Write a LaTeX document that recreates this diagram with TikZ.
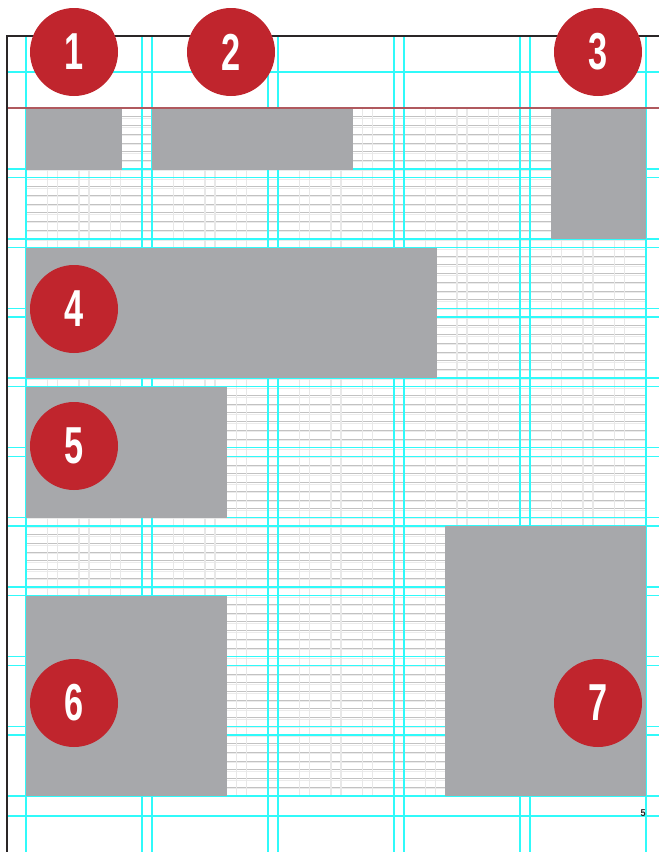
\documentclass[tikz,border=0pt]{standalone}
\usepackage{xcolor}
\usepackage{fontspec}
\usepackage{tikz}
\usetikzlibrary{positioning}
\newfontfamily\discfont[FakeStretch=0.66]{Liberation Sans}
\newfontfamily\foliofont[FakeStretch=0.9]{Liberation Sans}
\definecolor{discred}{HTML}{C0252D}
\definecolor{boxgrey}{HTML}{A7A8AB}
\definecolor{guidecyan}{HTML}{30FAFA}
\definecolor{marginred}{HTML}{B0595E}
\definecolor{framegrey}{HTML}{2A2627}
\tikzstyle{ruleline}=[black!24, line width=0.5pt]
\tikzstyle{ruleshade}=[black!8, line width=0.8pt]
\tikzstyle{subcol}=[black!9, line width=1.1pt]
\tikzstyle{guide}=[guidecyan, line width=1.4pt]
\tikzstyle{greybox}=[rectangle, fill=boxgrey, inner sep=0pt, outer sep=0pt, anchor=north west]
\tikzstyle{numdisc}=[circle, fill=discred, minimum size=88pt, inner sep=0pt, text=white, font=\discfont\bfseries\fontsize{52}{52}\selectfont]

\begin{document}
\begin{tikzpicture}[x=1pt,y=-1pt]
        \useasboundingbox (0,0) rectangle (659,852);
        % baseline grid
        \foreach \k in {1,...,78} {
          \draw[ruleshade] (26,{109.6+8.706*\k}) -- (646,{109.6+8.706*\k});
          \draw[ruleline] (26,{108+8.706*\k}) -- (646,{108+8.706*\k});
        }
        \foreach \j in {0,...,19} {
          \draw[subcol] ({26+31.5*\j},108) -- ({26+31.5*\j},796);
          \draw[subcol] ({47.5+31.5*\j},108) -- ({47.5+31.5*\j},796);
        }
        % guides
        \foreach \c in {0,...,4} {
          \draw[guide] ({26+126*\c},36) -- ({26+126*\c},852);
          \draw[guide] ({142+126*\c},36) -- ({142+126*\c},852);
        }
        \foreach \y in {72,816}
          \draw[guide] (7,\y) -- (659,\y);
        \foreach \i in {0,...,9} {
          \draw[guide] (7,{108+69.65*\i}) -- (659,{108+69.65*\i});
          \draw[guide] (7,{169.15+69.65*\i}) -- (659,{169.15+69.65*\i});
        }
        % picture blocks
        \node[greybox, minimum width=95.5pt, minimum height=62pt] (b1) at (26,108) {};
        \node[greybox, minimum width=201pt, minimum height=62pt] (b2) at (152,108) {};
        \node[greybox, minimum width=95pt, minimum height=131pt] (b3) at (551,108) {};
        \node[greybox, minimum width=411pt, minimum height=130pt] (b4) at (26,248) {};
        \node[greybox, minimum width=201pt, minimum height=130.5pt] (b5) at (26,387) {};
        \node[greybox, minimum width=201pt, minimum height=200pt] (b6) at (26,596) {};
        \node[greybox, minimum width=201pt, minimum height=270pt] (b7) at (445,526) {};
        % frame and margin
        \draw[marginred, line width=1.3pt] (7,108) -- (659,108);
        \draw[framegrey, line width=1.8pt] (659,36) -- (7,36) -- (7,852);
        % numbers
        \node[numdisc] (n1) at (74,52) {1};
        \node[numdisc] (n2) at (231,52) {2};
        \node[numdisc] (n3) at (598,52) {3};
        \node[numdisc] (n4) at (74,309) {4};
        \node[numdisc] (n5) at (74,446) {5};
        \node[numdisc] (n6) at (74,703) {6};
        \node[numdisc] (n7) at (598,703) {7};
        \node[font=\foliofont\bfseries\fontsize{10}{10}\selectfont, text=framegrey, inner sep=0pt] (folio) at (643,813) {5};
      \end{tikzpicture}
\end{document}
